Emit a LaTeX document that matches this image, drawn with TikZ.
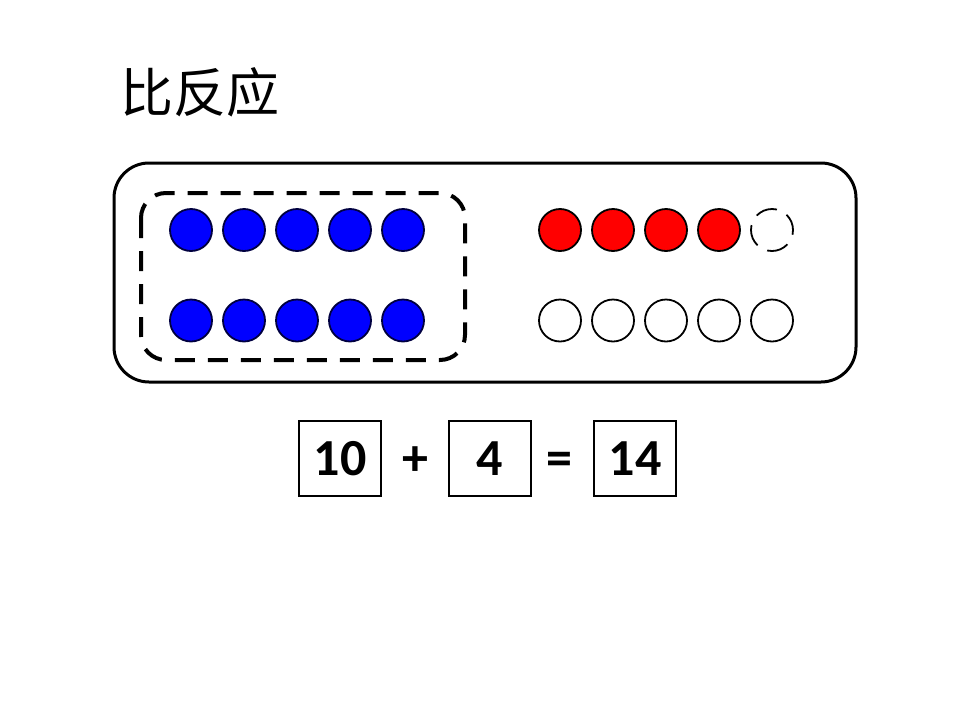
\documentclass[tikz,border=0pt]{standalone}
\usepackage{fontspec}
\setmainfont{Carlito}
\newfontfamily\cjk{Noto Sans CJK SC}
\usetikzlibrary{positioning}

\newcommand*{\rowa}{230}
\newcommand*{\rowb}{320.5}
\newcommand*{\gap}{53}

\tikzset{
	bead/.style={circle,draw=black,line width=1.8pt,minimum size=42pt,inner sep=0pt},
	numbox/.style={draw,line width=1.8pt,minimum width=82pt,minimum height=75pt,inner sep=0pt,font=\bfseries\fontsize{52}{52}\selectfont},
	sign/.style={font=\bfseries\fontsize{52}{52}\selectfont,inner sep=0pt,anchor=base},
}

\begin{document}
\begin{tikzpicture}[x=1pt,y=-1pt]

	\useasboundingbox (0,0) rectangle (960,720);

	% title
	\node (title) at (200,92) {\cjk\fontsize{53}{53}\selectfont 比反应};

	% frames
	\draw[line width=3pt,rounded corners=35pt] (114,163) rectangle (856,382);
	\draw[line width=4pt,dash pattern=on 20pt off 13pt,rounded corners=25pt] (141,193) rectangle (465,360);

	% beads
	\foreach \i in {0,...,4} {
		\node[bead,fill=blue,draw=black!75!blue] (blue a\i) at (191+\gap*\i,\rowa) {};
		\node[bead,fill=blue,draw=black!75!blue] (blue b\i) at (191+\gap*\i,\rowb) {};
		\node[bead,fill=white] (white b\i) at (560+\gap*\i,\rowb) {};
	}
	\foreach \i in {0,...,3}
		\node[bead,fill=red] (red a\i) at (560+\gap*\i,\rowa) {};
	\node[bead,fill=white,dash pattern=on 22pt off 11pt,dash phase=5pt] (empty a4) at (772,\rowa) {};

	% sum
	\node[numbox] (ten) at (340,458.5) {10};
	\node[numbox] (four) at (490,458.5) {4};
	\node[numbox] (sum) at (635,458.5) {14};
	\node[sign] (plus) at (415,475) {+};
	\node[sign] (equals) at (559,475) {=};

\end{tikzpicture}
\end{document}
